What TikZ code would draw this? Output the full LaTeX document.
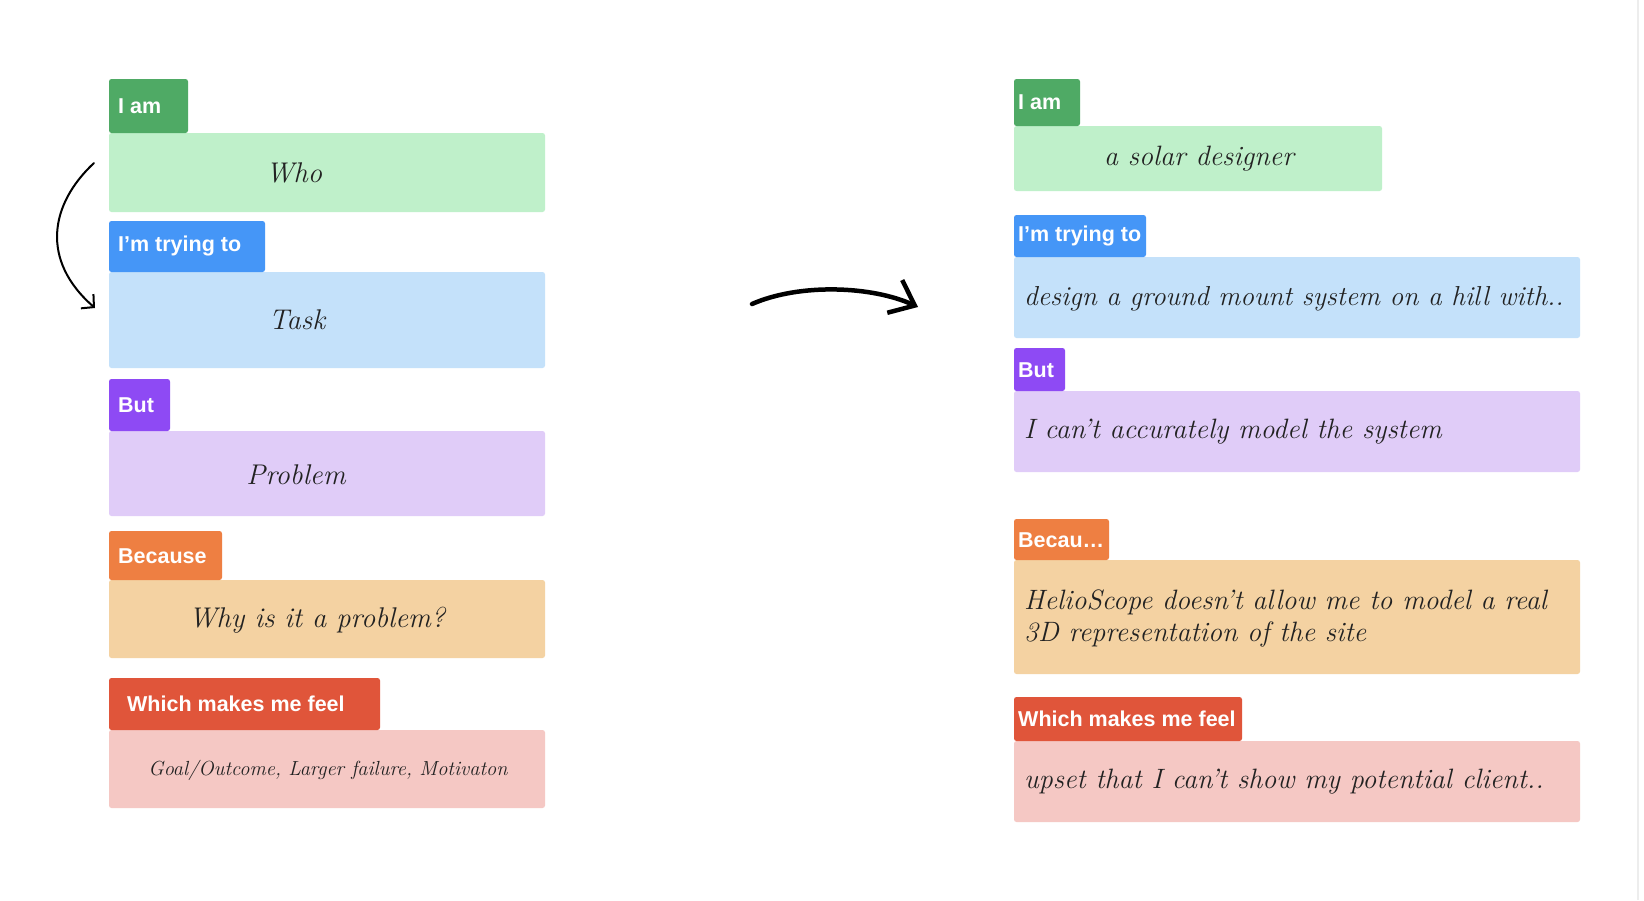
\documentclass[tikz,border=0pt]{standalone}
\usepackage{fontspec}
\usetikzlibrary{arrows.meta}
\newfontfamily\tagfont{Liberation Sans}
\definecolor{tgreen}{HTML}{4FAA65}
\definecolor{bgreen}{HTML}{BFF0CA}
\definecolor{tblue}{HTML}{4596F7}
\definecolor{bblue}{HTML}{C4E1FA}
\definecolor{tpurple}{HTML}{8E4AF4}
\definecolor{bpurple}{HTML}{E0CCF8}
\definecolor{torange}{HTML}{EE7F42}
\definecolor{borange}{HTML}{F4D2A2}
\definecolor{tred}{HTML}{E0553A}
\definecolor{bpink}{HTML}{F5C8C4}
\definecolor{ink}{HTML}{222222}
\definecolor{edge}{HTML}{EDEDED}
\tikzset{
  card/.style={rounded corners=2.5pt, inner sep=0pt, outer sep=0pt, anchor=north west, draw=none},
  tagtext/.style={anchor=west, inner sep=0pt, text=white, font=\tagfont\bfseries\fontsize{21.5}{25}\selectfont},
  hand/.style={inner sep=0pt, text=ink, font=\itshape\fontsize{28.5}{34}\selectfont},
  handr/.style={inner sep=0pt, text=ink, anchor=west, font=\itshape\fontsize{28}{32}\selectfont},
  link/.style={draw=black, line cap=round, line join=round}
}
\begin{document}
\begin{tikzpicture}[x=1pt,y=-1pt]
\useasboundingbox[fill=white] (0,0) rectangle (1644,900);
\draw[edge, line width=2pt] (1638,0) -- (1638,900);
% ---------- left column ----------
\node[card, fill=bgreen, minimum width=436pt, minimum height=79pt] (lb1) at (109,133) {};
\node[card, fill=tgreen, minimum width=79pt, minimum height=54pt] (lt1) at (109,79) {};
\node[tagtext] (ltt1) at (118,106) {I am};
\node[hand] (lh1) at (294,173) {Who};

\node[card, fill=bblue, minimum width=436pt, minimum height=96pt] (lb2) at (109,272) {};
\node[card, fill=tblue, minimum width=156pt, minimum height=51pt] (lt2) at (109,221) {};
\node[tagtext] (ltt2) at (118,246) {I’m trying to};
\node[hand] (lh2) at (297,320) {Task};

\node[card, fill=bpurple, minimum width=436pt, minimum height=85pt] (lb3) at (109,431) {};
\node[card, fill=tpurple, minimum width=61pt, minimum height=52pt] (lt3) at (109,379) {};
\node[tagtext] (ltt3) at (118,405) {But};
\node[hand] (lh3) at (296,475) {Problem};

\node[card, fill=borange, minimum width=436pt, minimum height=78pt] (lb4) at (109,580) {};
\node[card, fill=torange, minimum width=113pt, minimum height=49pt] (lt4) at (109,531) {};
\node[tagtext] (ltt4) at (118,556) {Because};
\node[hand] (lh4) at (317,620) {Why is it a problem?};

\node[card, fill=bpink, minimum width=436pt, minimum height=78pt] (lb5) at (109,730) {};
\node[card, fill=tred, minimum width=271pt, minimum height=52pt] (lt5) at (109,678) {};
\node[tagtext] (ltt5) at (127,704) {Which makes me feel};
\node[hand, font=\itshape\fontsize{20.4}{24}\selectfont] (lh5) at (328,770) {Goal/Outcome, Larger failure, Motivaton};

% ---------- right column ----------
\node[card, fill=bgreen, minimum width=368pt, minimum height=65pt] (rb1) at (1014,126) {};
\node[card, fill=tgreen, minimum width=66pt, minimum height=47pt] (rt1) at (1014,79) {};
\node[tagtext] (rtt1) at (1018,102) {I am};
\node[hand, font=\itshape\fontsize{28}{32}\selectfont] (rh1) at (1199,159) {a solar designer};

\node[card, fill=bblue, minimum width=566pt, minimum height=81pt] (rb2) at (1014,257) {};
\node[card, fill=tblue, minimum width=132pt, minimum height=42pt] (rt2) at (1014,215) {};
\node[tagtext] (rtt2) at (1018,236) {I’m trying to};
\node[handr, font=\itshape\fontsize{27.4}{32}\selectfont] (rh2) at (1024,299) {design a ground mount system on a hill with..};

\node[card, fill=bpurple, minimum width=566pt, minimum height=81pt] (rb3) at (1014,391) {};
\node[card, fill=tpurple, minimum width=51pt, minimum height=43pt] (rt3) at (1014,348) {};
\node[tagtext] (rtt3) at (1018,370) {But};
\node[handr] (rh3) at (1024,432) {I can't accurately model the system};

\node[card, fill=borange, minimum width=566pt, minimum height=114pt] (rb4) at (1014,560) {};
\node[card, fill=torange, minimum width=95pt, minimum height=41pt] (rt4) at (1014,519) {};
\node[tagtext] (rtt4) at (1018,540) {Becau…};
\node[handr] (rh4a) at (1024,602) {HelioScope doesn't allow me to model a real};
\node[handr] (rh4b) at (1024,634) {3D representation of the site};

\node[card, fill=bpink, minimum width=566pt, minimum height=81pt] (rb5) at (1014,741) {};
\node[card, fill=tred, minimum width=228pt, minimum height=44pt] (rt5) at (1014,697) {};
\node[tagtext] (rtt5) at (1018,719) {Which makes me feel};
\node[handr] (rh5) at (1024,782) {upset that I can't show my potential client..};

% ---------- arrows ----------
\coordinate (a1s) at (94,163);
\coordinate (a1e) at (95,308);
\draw[link, line width=2pt, -{Straight Barb[length=9pt,width=19pt]}]
  (a1s) .. controls (50,204) and (40,260) .. (a1e);
\coordinate (a2s) at (752,304);
\coordinate (a2e) at (918,307);
\draw[link, line width=4.5pt, -{Straight Barb[length=22pt,width=36pt]}]
  (a2s) .. controls (800,283) and (872,286) .. (a2e);
\end{tikzpicture}
\end{document}
